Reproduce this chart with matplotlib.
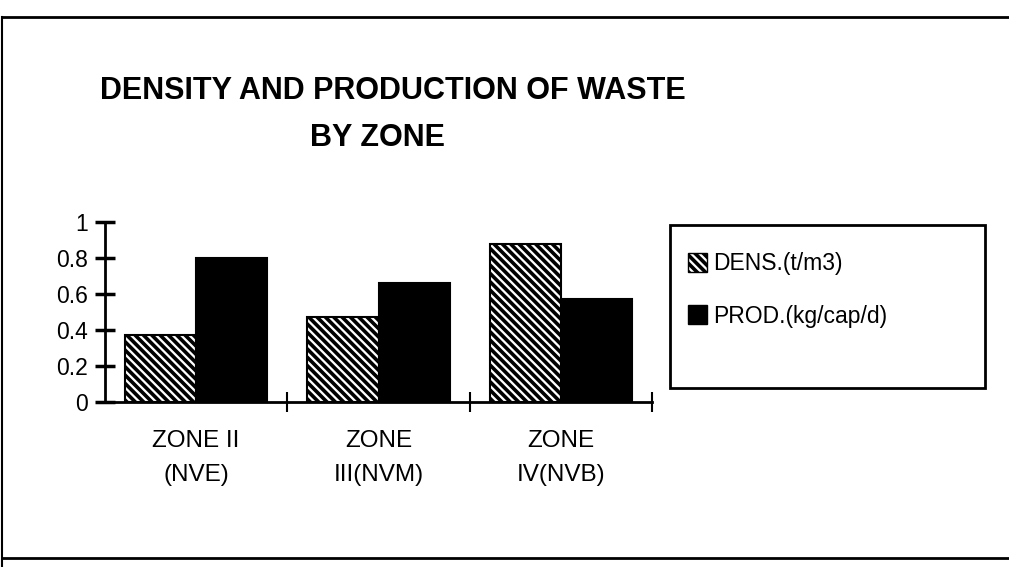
import matplotlib
matplotlib.use("Agg")
import matplotlib.pyplot as plt
from matplotlib.patches import Rectangle, Patch
from matplotlib.lines import Line2D
import numpy as np

categories = ["ZONE II\n(NVE)", "ZONE\nIII(NVM)", "ZONE\nIV(NVB)"]
dens = [0.37, 0.47, 0.88]
prod = [0.80, 0.66, 0.57]
series_names = ["DENS.(t/m3)", "PROD.(kg/cap/d)"]
yticks = [0, 0.2, 0.4, 0.6, 0.8, 1]
ytick_labels = ["0", "0.2", "0.4", "0.6", "0.8", "1"]
title_lines = ["DENSITY AND PRODUCTION OF WASTE", "BY ZONE"]

plt.rcParams['font.family'] = ['Liberation Sans', 'DejaVu Sans']
plt.rcParams['hatch.linewidth'] = 2.6
plt.rcParams['hatch.color'] = 'black'

W, H = 1009, 567
fig = plt.figure(figsize=(W / 100, H / 100), dpi=100)
fig.patch.set_facecolor('white')

ax = fig.add_axes([105 / W, 1 - 402 / H, (652 - 105) / W, (402 - 222) / H])

x = np.arange(len(categories)) + 0.5
bw = 0.39
hatch = '\\\\\\\\'
ax.bar(x - bw / 2, dens, width=bw, facecolor='white', edgecolor='black',
       hatch=hatch, linewidth=1.5, label=series_names[0])
ax.bar(x + bw / 2, prod, width=bw, facecolor='black', edgecolor='black',
       linewidth=1.5, label=series_names[1])

ax.set_xlim(0, 3)
ax.set_ylim(0, 1)
for s in ['top', 'right']:
    ax.spines[s].set_visible(False)
for s in ['left', 'bottom']:
    ax.spines[s].set_linewidth(2)

ax.set_yticks(yticks)
ax.set_yticklabels(ytick_labels)
ax.tick_params(axis='y', direction='inout', length=14, width=2.5, pad=5,
               labelsize=16.5)

ax.set_xticks(x)
ax.set_xticklabels(categories, linespacing=1.7)
ax.tick_params(axis='x', which='major', length=0, pad=20, labelsize=17.5)
ax.set_xticks([1, 2, 3], minor=True)
ax.tick_params(axis='x', which='minor', direction='inout', length=14, width=1.5)

# Titles
fig.text(393 / W, 1 - 99 / H, title_lines[0], ha='center', va='baseline',
         fontsize=22, fontweight='bold')
fig.text(377 / W, 1 - 146 / H, title_lines[1], ha='center', va='baseline',
         fontsize=22, fontweight='bold')

# Legend box
fig.add_artist(Rectangle((670 / W, 1 - 388 / H), (985 - 670) / W, (388 - 225) / H,
                         transform=fig.transFigure, facecolor='none',
                         edgecolor='black', linewidth=2))
handles = [Patch(facecolor='white', edgecolor='black', hatch=hatch),
           Patch(facecolor='black', edgecolor='black')]
fig.legend(handles, series_names, loc='upper left',
           bbox_to_anchor=(688 / W, 1 - 252 / H), frameon=False, fontsize=16.5,
           handlelength=0.85, handleheight=0.9, handletextpad=0.25,
           labelspacing=1.3, borderpad=0, borderaxespad=0)

# Outer frame
fig.add_artist(Line2D([2 / W, 1], [1 - 17 / H, 1 - 17 / H], transform=fig.transFigure,
                      color='black', linewidth=2))
fig.add_artist(Line2D([2 / W, 2 / W], [0, 1 - 17 / H], transform=fig.transFigure,
                      color='black', linewidth=1.5))
fig.add_artist(Line2D([2 / W, 1], [1 - 558 / H, 1 - 558 / H], transform=fig.transFigure,
                      color='black', linewidth=2))

fig.savefig('out.png', dpi=100)
